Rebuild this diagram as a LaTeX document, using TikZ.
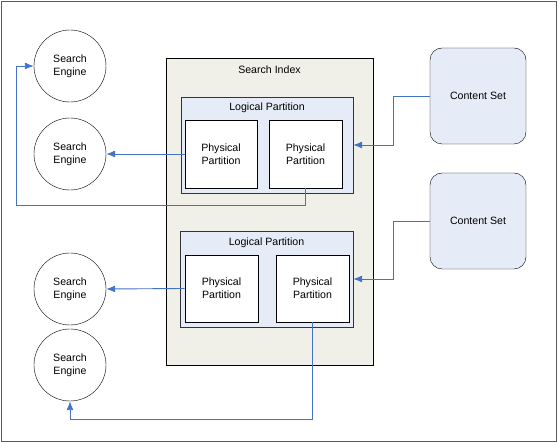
\documentclass[tikz,border=0pt]{standalone}
\usepackage{fontspec}
\setmainfont{Liberation Sans}
\usepackage{tikz}
\usetikzlibrary{arrows.meta,positioning,shapes}
\definecolor{linkblue}{RGB}{68,114,196}
\definecolor{indexgray}{RGB}{240,240,232}
\definecolor{partblue}{RGB}{230,236,247}
\definecolor{framegray}{RGB}{90,90,90}

\begin{document}
\begin{tikzpicture}[x=1pt,y=-1pt,font=\fontsize{10.6}{13}\selectfont,
  engine/.style={draw,circle,minimum size=72pt,inner sep=0pt,align=center},
  idxbox/.style={draw,fill=indexgray,inner sep=0pt},
  logbox/.style={draw=black!80,fill=partblue,inner sep=0pt},
  physbox/.style={draw,fill=white,inner sep=0pt,align=center,line width=.8pt},
  setbox/.style={draw,fill=partblue,rounded corners=12pt,minimum width=96pt,minimum height=96pt},
  link/.style={draw=linkblue,line width=.9pt,-{Latex[length=9pt,width=7pt]}}]
\useasboundingbox (0,0) rectangle (558,443);
\draw[framegray] (1,1) rectangle (556.5,441.5);
% search engines
\node[engine] (se1) at (70,66) {Search\\Engine};
\node[engine] (se2) at (70,154) {Search\\Engine};
\node[engine] (se3) at (70,289) {Search\\Engine};
\node[engine] (se4) at (70,365) {Search\\Engine};
% index and partitions
\node[idxbox,minimum width=207pt,minimum height=307pt] (idx) at (269.5,211.5) {};
\node (idxlbl) at (269.5,69.5) {Search Index};
\node[logbox,minimum width=172pt,minimum height=96pt] (lp1) at (267,145) {};
\node (lp1lbl) at (267,107.5) {Logical Partition};
\node[physbox,minimum width=72pt,minimum height=68pt] (pp1a) at (221,154) {Physical\\Partition};
\node[physbox,minimum width=73pt,minimum height=68pt] (pp1b) at (305.5,154) {Physical\\Partition};
\node[logbox,minimum width=173pt,minimum height=96pt] (lp2) at (266.5,279) {};
\node (lp2lbl) at (266.5,242.5) {Logical Partition};
\node[physbox,minimum width=73pt,minimum height=67pt] (pp2a) at (221.5,288.5) {Physical\\Partition};
\node[physbox,minimum width=73pt,minimum height=67pt] (pp2b) at (312.5,288.5) {Physical\\Partition};
% content sets
\node[setbox] (cs1) at (478,96) {Content Set};
\node[setbox] (cs2) at (478,221) {Content Set};
% connectors
\coordinate (bend1) at (16,205);
\coordinate (bend2) at (70,419);
\draw[link] (cs1.west) -- ++(-36,0) |- (lp1.east);
\draw[link] (cs2.west) -- ++(-36,0) |- (lp2.east);
\draw[link] (pp1a.west) -- (se2.east);
\draw[link] (pp2a.west) -- (se3.east);
\draw[link] (pp1b.south) |- (bend1) |- (se1.west);
\draw[link] (pp2b.south) |- (bend2) -- (se4.south);
\end{tikzpicture}
\end{document}
